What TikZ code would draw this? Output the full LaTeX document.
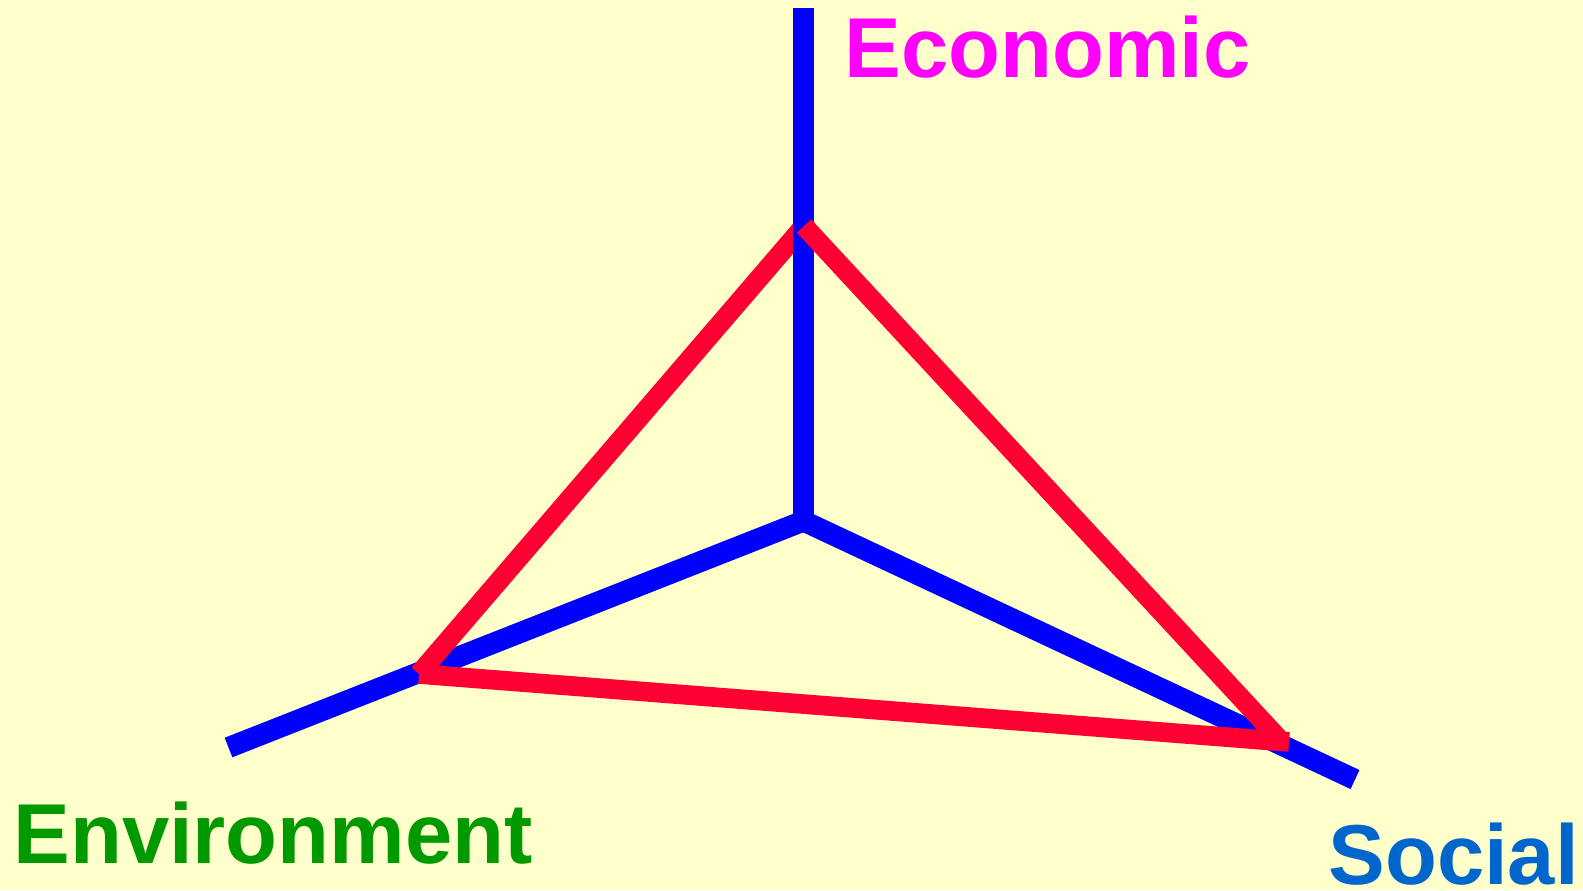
\documentclass[tikz,border=0pt]{standalone}
\usepackage{fontspec}
\setmainfont{Liberation Sans}
\definecolor{bgyellow}{RGB}{255,255,204}
\definecolor{axisblue}{RGB}{0,0,255}
\definecolor{trired}{RGB}{255,0,51}
\definecolor{ecomagenta}{RGB}{255,0,255}
\definecolor{envgreen}{RGB}{0,153,0}
\definecolor{socblue}{RGB}{0,102,204}
\tikzset{
  axisline/.style={line width=10.5pt, axisblue, line join=miter},
  triline/.style ={line width=9.8pt, trired},
  pillar/.style  ={inner sep=0pt, anchor=base west,
                   font=\fontsize{42.5}{50}\selectfont\bfseries},
}

\begin{document}
\begin{tikzpicture}[x=0.5pt, y=-0.5pt]
  \useasboundingbox (0,0) rectangle (1583,890);
  \fill[bgyellow] (0,0) rectangle (1583,890);
  \coordinate (O)   at (803.5,521);
  \coordinate (eco) at (803.5,8);
  \coordinate (env) at (228.5,747.5);
  \coordinate (soc) at (1355,779.5);
  \coordinate (A)   at (804,226);
  \coordinate (B)   at (419,674);
  \coordinate (C)   at (1280,740);
  \coordinate (Cx)  at (1289,742);
  % axes, with the triangle woven through them
  \draw[axisline] (env) -- (O) -- (soc);
  \draw[triline] (A) -- (B);
  \draw[axisline] (O) -- (eco);
  \draw[triline] (A) -- (C);
  \draw[triline] (B) -- (Cx);
  \node[pillar, ecomagenta] (ecolabel) at (844,77)  {Economic};
  \node[pillar, envgreen]   (envlabel) at (13,863)  {Environment};
  \node[pillar, socblue]    (soclabel) at (1328,884) {Social};
\end{tikzpicture}
\end{document}
